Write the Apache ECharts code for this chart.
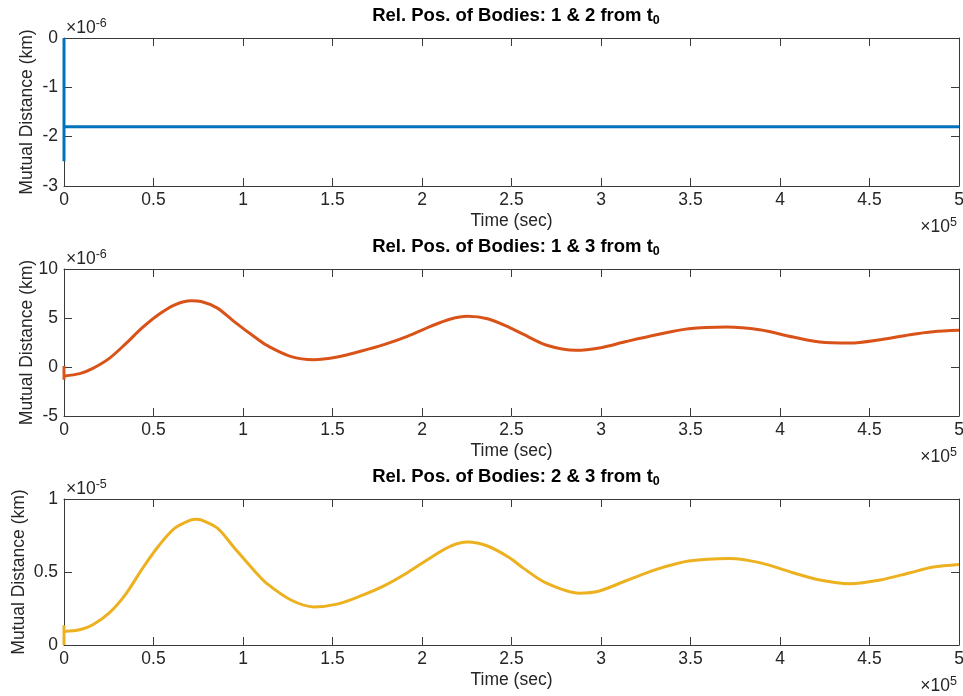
<!DOCTYPE html>
<html>
<head>
<meta charset="utf-8">
<script src="https://cdn.jsdelivr.net/npm/echarts@6/dist/echarts.min.js"></script>
<style>
html,body{margin:0;padding:0;background:#fff;}
#chart{width:963px;height:696px;}
</style>
</head>
<body>
<div id="chart"></div>
<script>
// ---- data (time in seconds, distances in displayed mantissa units) ----
const xTicksLabelScale = 1e5;            // x labels shown as ×10^5
const panelTitles = ['1 & 2', '1 & 3', '2 & 3'];
const yExponents = ['-6', '-6', '-5'];

// Bodies 1 & 2 (×10^-6 km)
const t12 = [0, 0, 0, 500000];
const d12 = [0, -2.5, -1.8, -1.8];

// Bodies 1 & 3 (×10^-6 km)
const t13Spike = [0, 0, 0];
const d13Spike = [0.1, -1.3, -0.91];
const t13 = [0, 8800, 16100, 25300, 34400, 43600, 52700, 61900, 71100, 76600, 85700, 94900,
  107700, 113400, 126500, 139500, 152600, 165700, 178700, 191800, 204800, 216000, 225400, 236600,
  248700, 256200, 269200, 286000, 299000, 314000, 331000, 349000, 370000, 388600, 407300, 422200,
  439000, 456000, 472600, 485600, 500000];
const d13 = [-0.91, -0.68, -0.14, 0.88, 2.36, 3.99, 5.34, 6.35, 6.76, 6.69, 6.01, 4.66,
  2.9, 2.2, 1.09, 0.75, 1.02, 1.6, 2.28, 3.13, 4.15, 4.9, 5.17, 4.92,
  4.05, 3.37, 2.25, 1.7, 1.94, 2.6, 3.3, 3.91, 4.08, 3.8, 3.06, 2.55,
  2.45, 2.79, 3.3, 3.6, 3.74];

// Bodies 2 & 3 (×10^-5 km)
const t23Spike = [0, 0, 0];
const d23Spike = [0.136, 0.0, 0.093];
const t23 = [0, 8800, 16100, 25300, 34400, 43600, 52700, 61900, 71100, 74000, 76600, 85700, 94900,
  107700, 113400, 126500, 139500, 152600, 165700, 178700, 191800, 204800, 216000, 225400, 236600,
  248700, 256200, 269200, 288000, 299000, 314000, 331000, 349000, 372000, 388600, 407300, 422200,
  439000, 456000, 472600, 485600, 500000];
const d23 = [0.093, 0.104, 0.139, 0.22, 0.347, 0.52, 0.676, 0.80, 0.857, 0.862, 0.857, 0.80, 0.67,
  0.49, 0.42, 0.31, 0.261, 0.28, 0.336, 0.405, 0.495, 0.598, 0.677, 0.705, 0.678,
  0.599, 0.53, 0.425, 0.355, 0.37, 0.44, 0.518, 0.575, 0.593, 0.564, 0.495, 0.445,
  0.42, 0.445, 0.495, 0.534, 0.552];

// axis ranges
const xMin = 0, xMax = 500000, xStep = 50000;
const yRanges = [[-3, 0, 1], [-5, 10, 5], [0, 1, 0.5]];

const colors = ['#0072BD', '#D95319', '#EDB120'];

// ---- layout ----
const FONT = 'Liberation Sans, Arial, Helvetica, sans-serif';
const TXT = '#262626';
const AX = '#3a3a3a';
const FS = 17.5;
const yNameGaps = [28, 28, 36];
const grids = [
  {left: 64, right: 4, top: 38, height: 148, outerBoundsMode: 'none', containLabel: false},
  {left: 64, right: 4, top: 269, height: 147, outerBoundsMode: 'none', containLabel: false},
  {left: 64, right: 4, top: 499, height: 146, outerBoundsMode: 'none', containLabel: false}
];

function zip(a, b) { return a.map((v, i) => [v, b[i]]); }

const xAxes = [], yAxes = [], titles = [], graphics = [];
grids.forEach((g, i) => {
  const base = {
    gridIndex: i, type: 'value', min: xMin, max: xMax, interval: xStep,
    axisLine: {show: true, onZero: false, lineStyle: {color: AX, width: 1}},
    axisTick: {show: true, inside: true, length: 8, lineStyle: {color: AX}},
    splitLine: {show: false}
  };
  xAxes.push(Object.assign({}, base, {
    position: 'bottom',
    name: 'Time (sec)', nameLocation: 'middle', nameGap: 26, nameMoveOverlap: false,
    nameTextStyle: {color: TXT, fontSize: FS, fontFamily: FONT},
    axisLabel: {show: true, color: TXT, fontSize: FS, fontFamily: FONT, margin: 5,
      formatter: v => String(+(v / xTicksLabelScale).toFixed(2))}
  }));
  xAxes.push(Object.assign({}, base, {position: 'top', axisLabel: {show: false}}));
  const r = yRanges[i];
  const ybase = {
    gridIndex: i, type: 'value', min: r[0], max: r[1], interval: r[2],
    axisLine: {show: true, onZero: false, lineStyle: {color: AX, width: 1}},
    axisTick: {show: true, inside: true, length: 8, lineStyle: {color: AX}},
    splitLine: {show: false}
  };
  yAxes.push(Object.assign({}, ybase, {
    position: 'left',
    name: 'Mutual Distance (km)', nameLocation: 'middle', nameGap: yNameGaps[i], nameMoveOverlap: false,
    nameTextStyle: {color: TXT, fontSize: FS, fontFamily: FONT},
    axisLabel: {show: true, color: TXT, fontSize: FS, fontFamily: FONT, margin: 6,
      formatter: v => String(+v.toFixed(2))}
  }));
  yAxes.push(Object.assign({}, ybase, {position: 'right', axisLabel: {show: false}}));

  titles.push({
    text: '{b|Rel. Pos. of Bodies: ' + panelTitles[i] + ' from t}{s|0}',
    left: 511, top: g.top - 39, textAlign: 'center',
    textStyle: {
      rich: {
        b: {fontSize: 18.5, fontWeight: 'bold', fontFamily: FONT, color: '#000'},
        s: {fontSize: 12.5, fontWeight: 'bold', fontFamily: FONT, color: '#000', padding: [10, 0, 0, 0]}
      }
    }
  });
  graphics.push({
    type: 'text', left: 66, top: g.top - 21,
    style: {
      text: '{a|\u00d710}{p|' + yExponents[i] + '}',
      rich: {
        a: {fontSize: FS, fontFamily: FONT, fill: TXT},
        p: {fontSize: 12.5, fontFamily: FONT, fill: TXT, padding: [0, 0, 10, 0]}
      }
    }
  });
  graphics.push({
    type: 'text', right: 6, top: g.top + g.height + 30,
    style: {
      text: '{a|\u00d710}{p|5}',
      rich: {
        a: {fontSize: FS, fontFamily: FONT, fill: TXT},
        p: {fontSize: 12.5, fontFamily: FONT, fill: TXT, padding: [0, 0, 10, 0]}
      }
    }
  });
});

function line(data, xi, yi, color, smooth) {
  return {
    type: 'line', data: data, xAxisIndex: xi, yAxisIndex: yi,
    showSymbol: false, symbol: 'none', smooth: smooth,
    animation: false,
    lineStyle: {color: color, width: 3}, itemStyle: {color: color}
  };
}

const series = [
  line(zip(t12, d12), 0, 0, colors[0], false),
  line(zip(t13Spike, d13Spike), 2, 2, colors[1], false),
  line(zip(t13, d13), 2, 2, colors[1], 0.3),
  line(zip(t23Spike, d23Spike), 4, 4, colors[2], false),
  line(zip(t23, d23), 4, 4, colors[2], 0.3)
];

const chart = echarts.init(document.getElementById('chart'), null, {renderer: 'canvas'});
chart.setOption({
  backgroundColor: '#fff',
  animation: false,
  title: titles,
  grid: grids,
  xAxis: xAxes,
  yAxis: yAxes,
  series: series,
  graphic: graphics
});
</script>
</body>
</html>
